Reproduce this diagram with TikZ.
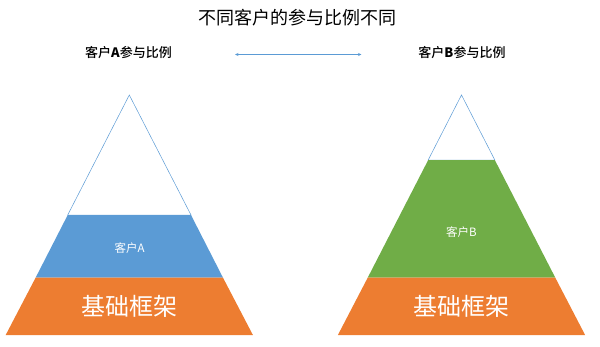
\documentclass[tikz,border=0pt]{standalone}
\usepackage{fontspec}
\setmainfont{Noto Sans CJK SC}
\newfontfamily\cjkmed{Noto Sans CJK SC Medium}
\usetikzlibrary{arrows.meta}
\definecolor{pblue}{HTML}{5B9BD5}
\definecolor{porange}{HTML}{ED7D31}
\definecolor{pgreen}{HTML}{70AD47}
\tikzset{
  lbl/.style={inner sep=0pt, text=white},
  head/.style={inner sep=0pt, text=black},
}
\begin{document}
\begin{tikzpicture}[x=1pt,y=-1pt]
\useasboundingbox (0,0) rectangle (600,346);
% left pyramid
\coordinate (aT) at (129.3,95);
\coordinate (aBL) at (5.7,335);
\coordinate (aBR) at (252.9,335);
\filldraw[fill=white,draw=pblue,line width=0.5pt] (aT) -- (67.7,215) -- (191,215) -- cycle;
\fill[pblue] (67.7,215) -- (191,215) -- (223,277.7) -- (35.6,277.7) -- cycle;
\fill[porange] (35.6,277.7) -- (223,277.7) -- (aBR) -- (aBL) -- cycle;
% right pyramid
\coordinate (bT) at (461.5,95);
\coordinate (bBL) at (337.9,335);
\coordinate (bBR) at (585.1,335);
\filldraw[fill=white,draw=pblue,line width=0.5pt] (bT) -- (428.2,160) -- (494.8,160) -- cycle;
\fill[pgreen] (428.2,160) -- (494.8,160) -- (555.3,277.7) -- (367.7,277.7) -- cycle;
\fill[porange] (367.7,277.7) -- (555.3,277.7) -- (bBR) -- (bBL) -- cycle;
% texts
\node[head,font=\fontsize{18}{20}\selectfont] (title) at (297,18) {不同客户的参与比例不同};
\node[head,font=\cjkmed\fontsize{13}{15}\selectfont] (subA) at (128.5,53) {客户\textbf{A}参与比例};
\node[head,font=\cjkmed\fontsize{13}{15}\selectfont] (subB) at (462,53) {客户\textbf{B}参与比例};
\coordinate (arL) at (235,54.5);
\coordinate (arR) at (361.5,54.5);
\draw[pblue,line width=0.6pt,{Stealth[length=3.5pt,width=3pt]}-{Stealth[length=3.5pt,width=3pt]}] (arL) -- (arR);
\node[lbl,font=\fontsize{11.5}{13}\selectfont] (cA) at (129.5,248) {客户A};
\node[lbl,font=\fontsize{11.5}{13}\selectfont] (cB) at (461.5,232) {客户B};
\node[lbl,font=\fontsize{24}{26}\selectfont] (fA) at (129.5,306.5) {基础框架};
\node[lbl,font=\fontsize{24}{26}\selectfont] (fB) at (461.5,306.5) {基础框架};
\end{tikzpicture}
\end{document}
